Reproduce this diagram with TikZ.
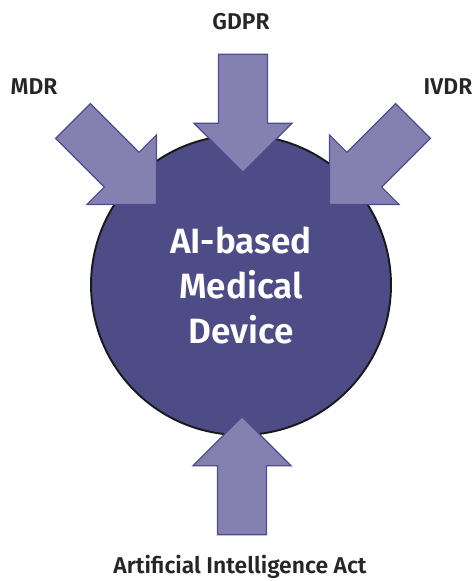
\documentclass[tikz,border=0pt]{standalone}
\usepackage{fontspec}
\setmainfont{Fira Sans}[BoldFont={Fira Sans SemiBold}]
\usetikzlibrary{shapes.arrows}

\definecolor{devfill}{HTML}{4E4C87}
\definecolor{lawfill}{HTML}{8481B0}
\definecolor{lawline}{HTML}{4E4C8E}

\tikzset{
  law/.style={single arrow, draw=lawline, fill=lawfill, line width=0.7pt,
    minimum height=2.36cm, inner xsep=0pt, inner ysep=0.48cm,
    single arrow head extend=0.49cm},
  lawname/.style={anchor=base, text=black!85,
    font=\bfseries\fontsize{13}{15}\selectfont},
}

\begin{document}
\begin{tikzpicture}[x=0.02cm,y=-0.02cm]
            \useasboundingbox (0,0) rectangle (474,581);
            % the device
            \node[circle, draw=black!90, line width=1.1pt, fill=devfill, minimum size=6cm] at (241,285) (dev) {};
            \node[text=white, align=center, font=\bfseries\fontsize{20}{25.6}\selectfont] at (dev.center) (devname) {AI-based\\Medical\\Device};
            % the laws pressing on it
            \node[law, rotate=-90] at (243,101) (gdpr) {};
            \node[law, rotate=-45] at (106,154) (mdr) {};
            \node[law, rotate=-135] at (380,154) (ivdr) {};
            \node[law, rotate=90] at (242,488) (aiact) {};
            \node[lawname] at (241,30) (gdprname) {GDPR};
            \node[lawname] at (34,94) (mdrname) {MDR};
            \node[lawname] at (448,94) (ivdrname) {IVDR};
            \node[lawname] at (240,573) (aiactname) {Artificial Intelligence Act};
\end{tikzpicture}
\end{document}
